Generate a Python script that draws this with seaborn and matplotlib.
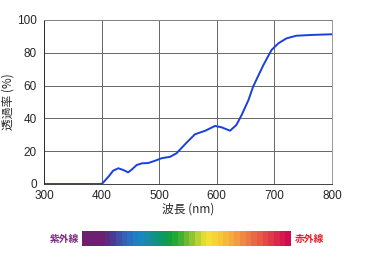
import numpy as np
import pandas as pd
import matplotlib
matplotlib.use("Agg")
import matplotlib.pyplot as plt
import seaborn as sns
from matplotlib.colors import ListedColormap

wavelength = [300, 350, 396, 401, 412, 420, 429, 438, 446, 453, 461, 470, 481, 493, 504, 519,
              530, 545, 562, 580, 597, 608, 623, 634, 643, 655, 663, 672, 681, 695,
              707, 721, 738, 765, 800]
transmittance = [0, 0, 0, 0.2, 4.5, 8.1, 9.6, 8.5, 7.1, 9.0, 11.6, 12.6, 12.8, 14.2, 15.7, 16.6,
                 18.7, 24.3, 30.3, 32.5, 35.4, 34.6, 32.5, 36, 42, 51.2, 59.3, 66, 72.6, 81.7,
                 85.8, 88.8, 90.4, 90.9, 91.3]
x_ticks = [300, 400, 500, 600, 700, 800]
y_ticks = [0, 20, 40, 60, 80, 100]
spectrum_colors = ["#6b2070", "#6b2070", "#6b2070", "#6b2070", "#5a2d80", "#4a3a92", "#3f4ea6",
                   "#3660b4", "#2a70c0", "#1f7fc6", "#1a88bf", "#1a8aa8", "#148f90", "#109478",
                   "#0e9a5c", "#10a040", "#22a836", "#45b030", "#68ba30", "#90c432", "#b8d234",
                   "#e0dc34", "#f2e034", "#f4d436", "#f5c838", "#f5b83a", "#f5aa3c", "#f49a40",
                   "#f08a42", "#ec7a44", "#e86a44", "#e65a46", "#e24a48", "#de3a4a", "#da2a4c",
                   "#d61a50", "#d00c50"]
uv_label = "紫外線"
ir_label = "赤外線"

sns.set_style("white")
plt.rcParams['font.family'] = ['Liberation Sans', 'Noto Sans CJK JP', 'DejaVu Sans']

fig = plt.figure(figsize=(3.7, 2.6), dpi=100)
ax = fig.add_axes([44/370, 1-184/260, 288/370, 164/260])
df = pd.DataFrame({"wl": wavelength, "t": transmittance})
sns.lineplot(data=df, x="wl", y="t", ax=ax, color="#1a3fe0", linewidth=1.4)
ax.set_xlim(300, 800)
ax.set_ylim(0, 100)
ax.set_xticks(x_ticks)
ax.set_yticks(y_ticks)
ax.grid(True, color="#666666", linewidth=0.7)
for s in ax.spines.values():
    s.set_color("#888888")
    s.set_linewidth(0.6)
ax.spines['left'].set_color("#222222")
ax.spines['bottom'].set_color("#222222")
ax.tick_params(axis='both', length=3, width=0.6, color="#222222", labelsize=8.5, pad=2, direction='out')
ax.tick_params(axis='x', length=0, pad=4)
ax.set_xlabel("波長 (nm)", fontsize=8.5, labelpad=1, family=['Noto Sans CJK JP', 'DejaVu Sans'])
ax.set_ylabel("透過率 (%)", fontsize=8.5, labelpad=2, family=['Noto Sans CJK JP', 'DejaVu Sans'])

cax = fig.add_axes([82/370, 1-246/260, 209/370, 15/260])
cax.imshow(np.arange(len(spectrum_colors))[None, :], aspect='auto',
           cmap=ListedColormap(spectrum_colors), interpolation='nearest')
cax.set_axis_off()
fig.text(64/370, 1-239/260, uv_label, color="#7a2a80", fontsize=7, ha='center', va='center',
         weight='bold', family=['Noto Sans CJK JP', 'DejaVu Sans'])
fig.text(309/370, 1-239/260, ir_label, color="#e8202a", fontsize=7, ha='center', va='center',
         weight='bold', family=['Noto Sans CJK JP', 'DejaVu Sans'])

fig.savefig("out.png", dpi=100)
